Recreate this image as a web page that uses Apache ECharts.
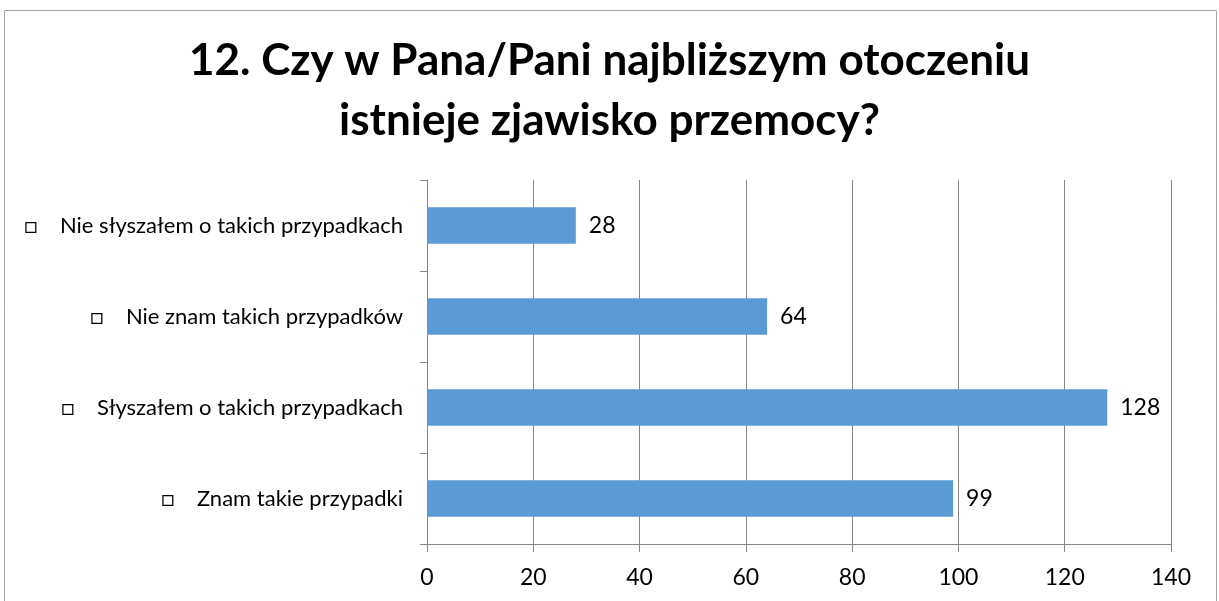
<!DOCTYPE html>
<html>
<head>
<meta charset="utf-8">
<script src="https://cdn.jsdelivr.net/npm/echarts@6/dist/echarts.min.js"></script>
<style>
  html, body { margin: 0; padding: 0; background: #fff; }
  #main { width: 1219px; height: 601px; }
</style>
</head>
<body>
<div id="main"></div>
<script>
// answers, bottom to top as drawn on the axis
const answers = [
    'Znam takie przypadki',
    'Słyszałem o takich przypadkach',
    'Nie znam takich przypadków',
    'Nie słyszałem o takich przypadkach'
];
const counts = [99, 128, 64, 28];
const titleLines = ['12. Czy w Pana/Pani najbliższym otoczeniu', 'istnieje zjawisko przemocy?'];

let myChart = echarts.init(document.getElementById('main'));

let option = {
    animation: false,
    textStyle: { fontFamily: 'Lato, "Open Sans", sans-serif' },
    title: {
        text: titleLines.join('\n'),
        left: 'center',
        top: 26,
        textStyle: {
            fontSize: 44,
            fontWeight: 'bold',
            color: '#000',
            lineHeight: 60,
            fontFamily: 'Lato, "Open Sans", sans-serif'
        }
    },
    graphic: [{
        type: 'rect',
        shape: { x: 4.5, y: 10.5, width: 1212, height: 620 },
        style: { fill: 'none', stroke: '#a6a6a6', lineWidth: 1 },
        silent: true
    }],
    grid: { left: 427, right: 48, top: 180, bottom: 57 },
    xAxis: {
        type: 'value',
        min: 0,
        max: 140,
        interval: 20,
        axisLine: { show: true, lineStyle: { color: '#868686' } },
        axisTick: { show: true, length: 8, lineStyle: { color: '#868686' } },
        splitLine: { show: true, lineStyle: { color: '#868686' } },
        axisLabel: { fontSize: 23, color: '#000', margin: 22 }
    },
    yAxis: {
        type: 'category',
        data: answers,
        axisLine: { show: true, lineStyle: { color: '#868686' } },
        axisTick: { show: true, length: 7, lineStyle: { color: '#868686' } },
        axisLabel: {
            fontSize: 22,
            color: '#000',
            margin: 24,
            formatter: function (v) { return '□    ' + v; }
        }
    },
    series: [{
        type: 'bar',
        data: counts,
        barWidth: '40%',
        itemStyle: { color: '#5b9bd5' },
        label: {
            show: true,
            position: 'right',
            distance: 13,
            fontSize: 23,
            color: '#000'
        }
    }]
};
myChart.setOption(option);
</script>
</body>
</html>
